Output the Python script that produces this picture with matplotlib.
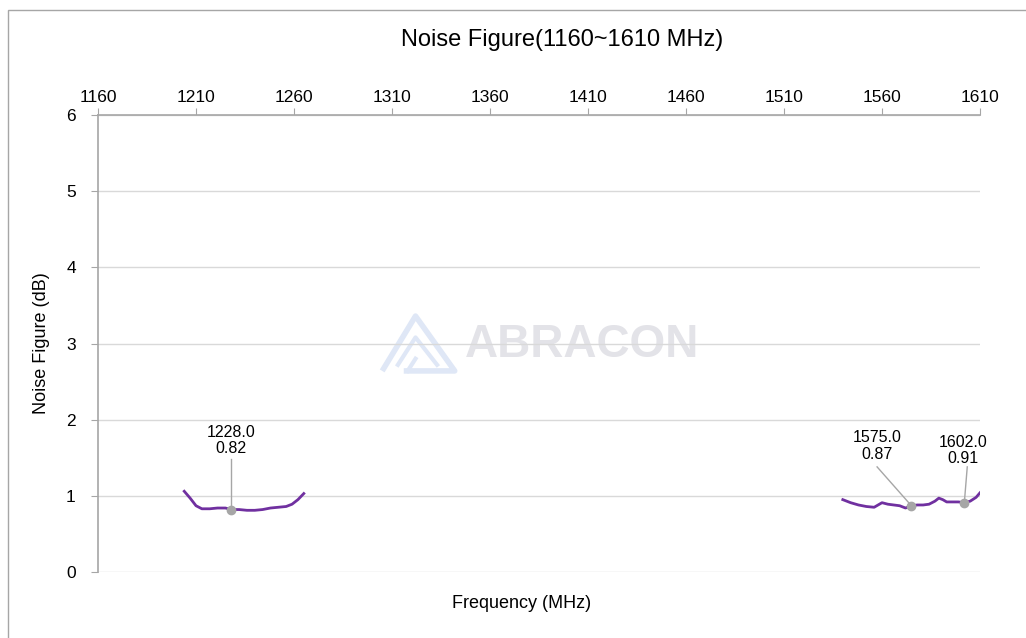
import matplotlib
matplotlib.use("Agg")
import matplotlib.pyplot as plt
from matplotlib.patches import Rectangle

plt.rcParams['font.family'] = ['Liberation Sans', 'DejaVu Sans']

# band 1 (L2/L5 region) and band 2 (L1 region)
freq_lo = [1204, 1207, 1210, 1213, 1217, 1221, 1225, 1228, 1232, 1236, 1240, 1244, 1248, 1252, 1256, 1259, 1262, 1265]
nf_lo = [1.06, 0.97, 0.87, 0.83, 0.83, 0.84, 0.84, 0.82, 0.82, 0.81, 0.81, 0.82, 0.84, 0.85, 0.86, 0.89, 0.95, 1.03]

freq_hi = [1540, 1544, 1548, 1552, 1556, 1560, 1563, 1566, 1569, 1572, 1575, 1578, 1581, 1584, 1587, 1589, 1591, 1593,
           1596, 1599, 1602, 1605, 1608, 1610]
nf_hi = [0.95, 0.91, 0.88, 0.86, 0.85, 0.91, 0.89, 0.88, 0.87, 0.84, 0.87, 0.88, 0.88, 0.89, 0.93, 0.97, 0.95, 0.92,
         0.92, 0.92, 0.91, 0.93, 0.98, 1.04]

marker_freq = [1228.0, 1575.0, 1602.0]
marker_nf = [0.82, 0.87, 0.91]
label_pos = [(1228.0, 1.52), (1557.5, 1.45), (1601.5, 1.39)]
leader_top = [(1228.0, 1.48), (1557.5, 1.38), (1603.5, 1.38)]

x_ticks = [1160, 1210, 1260, 1310, 1360, 1410, 1460, 1510, 1560, 1610]
y_ticks = [0, 1, 2, 3, 4, 5, 6]

fig = plt.figure(figsize=(10.26, 6.38), dpi=100)
ax = fig.add_axes([98 / 1026, 1 - 572 / 638, 882 / 1026, 457 / 638])

# outer chart border (only left/top visible in the reference)
fig.patches.append(Rectangle((8 / 1026, -0.1), 1.2, 1 - 10 / 638 + 0.1, transform=fig.transFigure,
                             fill=False, edgecolor='#a6a6a6', linewidth=1.0))

# watermark
ax.text(1407, 2.98, 'ABRACON', fontsize=33, fontweight='bold', color='#e3e3e8',
        ha='center', va='center', zorder=0)
wm = dict(color='#dfe7f6', linewidth=4, solid_capstyle='butt', zorder=0)
ax.plot([1305, 1322, 1342, 1316], [2.64, 3.36, 2.64, 2.64], **wm)
ax.plot([1313, 1322, 1333], [2.72, 3.08, 2.72], color='#dfe7f6', linewidth=3, zorder=0)
ax.plot([1318, 1322], [2.64, 2.80], color='#dfe7f6', linewidth=3, zorder=0)

ax.plot(freq_lo, nf_lo, color='#7030a0', linewidth=2, zorder=3)
ax.plot(freq_hi, nf_hi, color='#7030a0', linewidth=2, zorder=3)

for f, v, (tx, ty), (lx, ly) in zip(marker_freq, marker_nf, label_pos, leader_top):
    ax.plot([f], [v], 'o', color='#a6a6a6', markersize=6, zorder=4)
    ax.plot([f, lx], [v, ly], color='#a6a6a6', linewidth=1, zorder=3)
    ax.text(tx, ty, f'{f:.1f}\n{v:.2f}', ha='center', va='bottom', fontsize=11.5, color='#000000',
            linespacing=1.1, zorder=5)

ax.set_xlim(1160, 1610)
ax.set_ylim(0, 6)
ax.xaxis.tick_top()
ax.set_xticks(x_ticks)
ax.set_yticks(y_ticks)
ax.tick_params(axis='both', direction='out', length=5, color='#a6a6a6', labelsize=12.5, labelcolor='#000000')
ax.tick_params(axis='x', pad=2)
ax.tick_params(axis='y', pad=11)
ax.grid(axis='y', color='#d9d9d9', linewidth=1)
ax.set_axisbelow(True)
for side in ['right', 'bottom']:
    ax.spines[side].set_visible(False)
for side in ['left', 'top']:
    ax.spines[side].set_color('#a6a6a6')
    ax.spines[side].set_linewidth(1.2)

fig.text(562 / 1026, 1 - 40 / 638, 'Noise Figure(1160~1610 MHz)', ha='center', va='center', fontsize=17)
fig.text(522 / 1026, 1 - 603 / 638, 'Frequency (MHz)', ha='center', va='center', fontsize=13)
fig.text(42 / 1026, 1 - 343 / 638, 'Noise Figure (dB)', ha='center', va='center', fontsize=13, rotation=90)

fig.savefig('out.png', dpi=100)
